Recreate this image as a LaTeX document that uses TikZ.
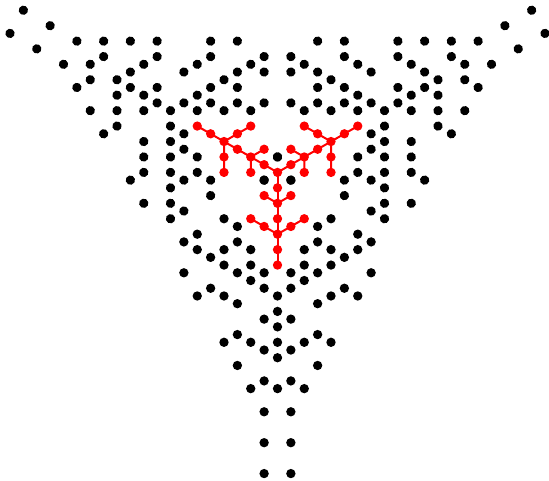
\documentclass[tikz,border=0pt]{standalone}
\begin{document}
\begin{tikzpicture}[x=0.75pt,y=-0.75pt,
  blackdot/.style={fill=black},
  reddot/.style={circle,fill=red,inner sep=0pt,minimum size=7pt},
  redbond/.style={draw=red,line width=1.5pt}]
\useasboundingbox (0,0) rectangle (549,480);
\def\U{13.375}\def\V{7.722}
\node[reddot] (ctr) at (277.5,172.4) {};
\foreach \r in {0,120,240}{
  \begin{scope}[shift={(277.5,172.4)},rotate=\r]
    \foreach \i/\j in {-1/1,1/1,-4/6,4/6,-3/7,3/7,-6/8,6/8,-7/9,-3/9,3/9,7/9,
      -6/10,-4/10,-2/10,2/10,4/10,6/10,-5/11,5/11,-4/12,-2/12,2/12,4/12,
      -7/13,-3/13,-1/13,1/13,3/13,7/13,-2/14,2/14,-5/15,-1/15,1/15,5/15,
      -6/16,-4/16,0/16,4/16,6/16,-3/17,3/17,0/18,-1/19,1/19,0/20,-3/21,3/21,
      -4/22,-2/22,0/22,2/22,4/22,-1/23,1/23,0/24,-3/25,3/25,-1/27,1/27,
      -2/28,0/28,2/28,-1/31,1/31,-1/35,1/35,-1/39,1/39}{
      \fill[blackdot] ({\i*\U},{\j*\V}) circle (3.5pt);
    }
    \foreach \k in {1,...,6}{
      \node[reddot] (a\r-\k) at (0,{2*\k*\V}) {};
    }
    \node[reddot] (bl\r) at ({-\U},{3*\V}) {};
    \node[reddot] (br\r) at ({\U},{3*\V}) {};
    \node[reddot] (cl\r) at ({-\U},{7*\V}) {};
    \node[reddot] (cr\r) at ({\U},{7*\V}) {};
    \node[reddot] (dl\r) at ({-2*\U},{6*\V}) {};
    \node[reddot] (dr\r) at ({2*\U},{6*\V}) {};
    \draw[redbond] (ctr.center) -- (a\r-1.center) -- (a\r-2.center) -- (a\r-3.center)
      -- (a\r-4.center) -- (a\r-5.center) -- (a\r-6.center);
    \draw[redbond] (bl\r.center) -- (a\r-2.center) -- (br\r.center);
    \draw[redbond] (dl\r.center) -- (cl\r.center) -- (a\r-4.center) -- (cr\r.center) -- (dr\r.center);
  \end{scope}
}
\end{tikzpicture}
\end{document}
